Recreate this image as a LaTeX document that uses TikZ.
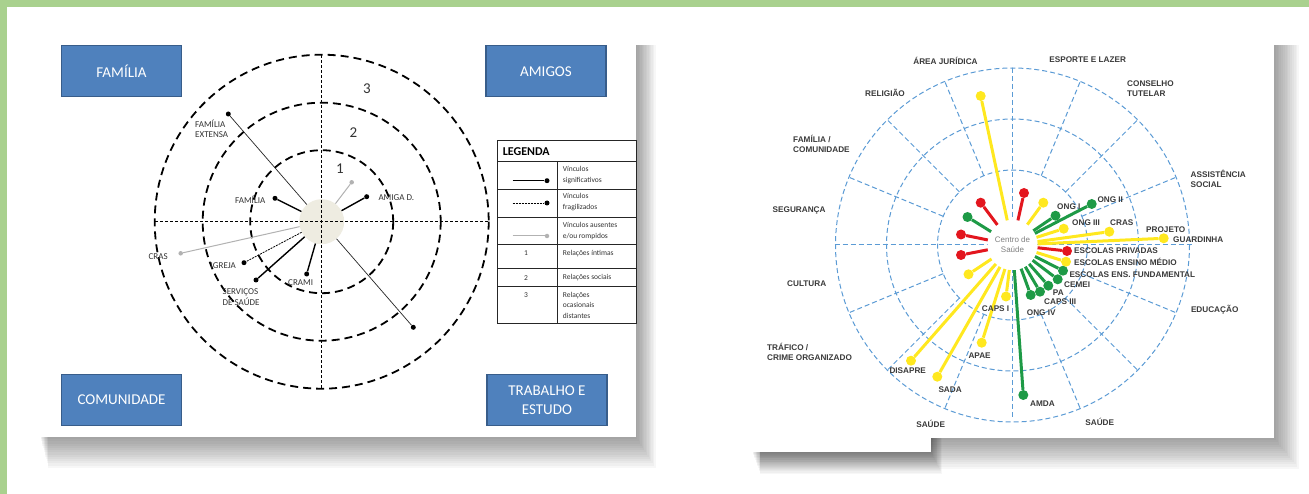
\documentclass[tikz,border=0pt]{standalone}
\usepackage{fontspec}
\setmainfont{Liberation Sans}
\newfontfamily\calibri{Carlito}
\usepackage{tikz}
\usetikzlibrary{positioning}
\definecolor{framegreen}{HTML}{A9D18E}
\definecolor{boxblue}{HTML}{4F81BD}
\definecolor{boxedge}{HTML}{385D8A}
\definecolor{egofill}{HTML}{EEECE1}
\definecolor{ringblue}{HTML}{5B9BD5}
\definecolor{linkyellow}{HTML}{FFE81F}
\definecolor{linkred}{HTML}{E3161E}
\definecolor{linkgreen}{HTML}{1E9A46}
\definecolor{labelgray}{HTML}{3A3A3A}

\begin{document}
\begin{tikzpicture}[x=1pt, y=-1pt,
    sector/.style={fill=boxblue, draw=boxedge, line width=1.2pt, minimum width=120pt,
        minimum height=51pt, text=white, align=center, font=\calibri\fontsize{15}{19}\selectfont},
    ego/.style={circle, fill=egofill, minimum size=45pt, inner sep=0pt},
    ldot/.style={circle, fill=black, minimum size=5pt, inner sep=0pt},
    gdot/.style={circle, fill=gray!60, minimum size=4.5pt, inner sep=0pt},
    strong/.style={line width=1.4pt, black},
    weak/.style={line width=0.7pt, black!85},
    fragile/.style={line width=0.8pt, black, dash pattern=on 2pt off 1pt},
    broken/.style={line width=1pt, gray!60},
    lname/.style={font=\calibri\fontsize{9}{10.8}\selectfont, text=black!80, inner sep=0pt,
        anchor=west, align=left},
    legtext/.style={font=\calibri\fontsize{7.5}{10.7}\selectfont, text=black!80, inner sep=0pt,
        anchor=west, align=left},
    lring/.style={line width=1.8pt, dash pattern=on 8pt off 5pt},
    laxis/.style={line width=0.9pt, dash pattern=on 3pt off 2pt},
    rring/.style={line width=1pt, ringblue, dash pattern=on 5pt off 3pt},
    center/.style={circle, fill=white, minimum size=50pt, inner sep=0pt, align=center,
        text=gray, font=\fontsize{8}{10}\selectfont},
    rdot/.style={circle, fill=#1, minimum size=10pt, inner sep=0pt},
    spoke/.style={line width=3pt, #1},
    sect/.style={font=\bfseries\fontsize{8.2}{10}\selectfont, text=labelgray, inner sep=0pt,
        align=left}]

    \useasboundingbox (0,0) rectangle (1309,494);

    % Frame
    \fill[framegreen] (0,0) rectangle (1309,7);
    \fill[framegreen] (0,0) rectangle (6.5,494);

    % Shadows
    \foreach \i in {1,...,14} {
        \fill[black, opacity=0.03] (40+\i*0.6,45) rectangle (636+\i*1.4,437+\i*2.2);
        \fill[black, opacity=0.03] (760,45) rectangle (1274+\i*1.8,438+\i*2.2);
        \fill[black, opacity=0.03] (752+\i*0.6,400) rectangle (931+\i*0.8,452+\i*1.6);
    }

    % Left panel
    \fill[white] (29.5,33.3) rectangle (636.4,437.3);

    \node[sector] (famil) at (121.5,71.2) {FAMÍLIA};
    \node[sector] (amigos) at (546,71.2) {AMIGOS};
    \node[sector] (comun) at (121.5,400) {COMUNIDADE};
    \node[sector] (trab) at (547,400) {TRABALHO E\\ESTUDO};

    \node[ego] (ego) at (321.7,221.7) {};

    % Rings
    \foreach \r in {71.5,119,167} {
        \draw[lring] (321.7,221.7) circle (\r);
    }
    \draw[laxis] (155,221.7) -- (488,221.7);
    \draw[laxis] (321.7,55) -- (321.7,388);

    \node[font=\calibri\fontsize{15}{17}\selectfont, text=black!80] (n1) at (340,169) {1};
    \node[font=\calibri\fontsize{15}{17}\selectfont, text=black!80] (n2) at (353.5,133) {2};
    \node[font=\calibri\fontsize{15}{17}\selectfont, text=black!80] (n3) at (367,88.5) {3};

    % Links
    \node[ldot] (dfamext) at (228.3,114) {};
    \node[ldot] (dfam) at (275,198.3) {};
    \node[gdot] (dtop) at (351.7,182.3) {};
    \node[ldot] (damiga) at (366.7,196.7) {};
    \node[gdot] (dcras) at (180.7,253.3) {};
    \node[ldot] (digreja) at (244,262.7) {};
    \node[ldot] (dserv) at (256,280) {};
    \node[ldot] (dcrami) at (306.7,274) {};
    \node[ldot] (dlow) at (413.3,327.3) {};

    \draw[weak] (ego) -- (dfamext);
    \draw[strong] (ego) -- (dfam);
    \draw[broken] (ego) -- (dtop);
    \draw[strong] (ego) -- (damiga);
    \draw[broken] (ego) -- (dcras);
    \draw[fragile] (ego) -- (digreja);
    \draw[strong] (ego) -- (dserv);
    \draw[strong] (ego) -- (dcrami);
    \draw[weak] (ego) -- (dlow);

    \node[lname] (tfamext) at (195,128.8) {FAMÍLIA\\EXTENSA};
    \node[lname] (tfam) at (235,200) {FAMÍLIA};
    \node[lname] (tamiga) at (378.3,197.3) {AMIGA D.};
    \node[lname] (tcras) at (148.5,257) {CRAS};
    \node[lname] (tigreja) at (210.5,265.7) {IGREJA};
    \node[lname] (tserv) at (222.5,297) {SERVIÇOS\\DE SAÚDE};
    \node[lname] (tcrami) at (288,282.7) {CRAMI};

    % Legend
    \draw[line width=0.9pt, black!85] (497.5,140.5) rectangle (636.5,323.5);
    \foreach \y in {161.7,189.3,217.3,244.7,268.5,286.3} {
        \draw[line width=0.9pt, black!85] (497.5,\y) -- (636.5,\y);
    }
    \draw[line width=0.9pt, black!85] (557.7,161.7) -- (557.7,323.5);
    \node[anchor=west, inner sep=0pt, font=\calibri\bfseries\fontsize{12}{14}\selectfont] (legend) at (502.7,151.5) {LEGENDA};

    \coordinate (ls1) at (512.6,180.7);
    \node[ldot] (le1) at (547,180.7) {};
    \draw[strong] (ls1) -- (le1);
    \coordinate (ls2) at (512.6,203);
    \node[ldot] (le2) at (547,203) {};
    \draw[fragile] (ls2) -- (le2);
    \coordinate (ls3) at (512.6,236);
    \node[gdot] (le3) at (547,236) {};
    \draw[broken] (ls3) -- (le3);

    \node[legtext] (lt1) at (562.7,175.3) {Vínculos\\significativos};
    \node[legtext] (lt2) at (562.7,202.2) {Vínculos\\fragilizados};
    \node[legtext] (lt3) at (562.7,231) {Vínculos ausentes\\e/ou rompidos};
    \node[legtext] (lt4) at (562.7,253.3) {Relações íntimas};
    \node[legtext] (lt5) at (562.7,277.7) {Relações sociais};
    \node[legtext] (lt6) at (562.7,305.3) {Relações\\ocasionais\\distantes};
    \node[legtext] (ln1) at (524,253.3) {1};
    \node[legtext] (ln2) at (524,277.7) {2};
    \node[legtext] (ln3) at (524,294.7) {3};

    % Right panel
    \fill[white] (747.7,30) rectangle (1273.6,438);
    \fill[white] (743,437) rectangle (931,452);

    \begin{scope}[shift={(1012.5,245)}]
        \foreach \r in {75,126,177} {
            \draw[rring] (0,0) circle (\r);
        }
        \draw[rring] (-178,0) -- (179,0);
        \draw[rring] (0,-177) -- (0,172);
        \foreach \a in {22.5,45,67.5,112.5,135,157.5,202.5,225,247.5,292.5,315,337.5} {
            \draw[rring] (\a:75) -- (\a:177);
        }
    \end{scope}

    \node[center] (cs) at (1012.5,245) {Centro de\\Saúde};

    \foreach \x/\y/\c [count=\k] in {980.7/96/linkyellow, 980.7/202.7/linkred, 967.5/217/linkgreen,
        961/234.5/linkred, 961/255/linkred, 968.5/274.3/linkyellow, 911/360.7/linkyellow,
        937.3/376.7/linkyellow, 981.7/342.7/linkyellow, 1006/296.5/linkyellow, 1023.3/395/linkgreen,
        1030.7/295/linkgreen, 1040/291.7/linkgreen, 1048.3/285.7/linkgreen, 1057.7/279.3/linkgreen,
        1063/270.7/linkgreen, 1066/261.7/linkyellow, 1067/251/linkred, 1163.7/238.3/linkyellow,
        1109.3/231.7/linkyellow, 1063.7/228.7/linkyellow, 1055.5/215.7/linkgreen, 1091.7/204/linkgreen,
        1043.3/202.7/linkyellow, 1024/193/linkred} {
        \node[rdot=\c] (r\k) at (\x,\y) {};
        \draw[spoke=\c] (cs) -- (r\k);
    }

    % Sectors
    \node[sect] (sjur) at (945.5,60.5) {ÁREA JURÍDICA};
    \node[sect] (sesp) at (1087.7,60) {ESPORTE E LAZER};
    \node[sect, anchor=west] (scons) at (1127,89) {CONSELHO\\TUTELAR};
    \node[sect] (srel) at (885,93.3) {RELIGIÃO};
    \node[sect, anchor=west] (sfam) at (793,144.3) {FAMÍLIA /\\COMUNIDADE};
    \node[sect, anchor=west] (sass) at (1190.5,179.2) {ASSISTÊNCIA\\SOCIAL};
    \node[sect, anchor=west] (sseg) at (772.5,210.7) {SEGURANÇA};
    \node[sect, anchor=west] (scult) at (787,283.3) {CULTURA};
    \node[sect, anchor=west] (sedu) at (1190.8,309.3) {EDUCAÇÃO};
    \node[sect, anchor=west] (strf) at (767,352.3) {TRÁFICO /\\CRIME ORGANIZADO};
    \node[sect] (ssau1) at (930.7,424) {SAÚDE};
    \node[sect] (ssau2) at (1099.7,421.5) {SAÚDE};

    % Link names
    \node[sect, anchor=west] (tong2) at (1097.3,199.3) {ONG II};
    \node[sect, anchor=west] (tong1) at (1057,206.7) {ONG I};
    \node[sect, anchor=west] (tong3) at (1072,222.7) {ONG III};
    \node[sect, anchor=west] (tcras2) at (1110,222.7) {CRAS};
    \node[sect, anchor=west] (tproj) at (1146,230) {PROJETO};
    \node[sect, anchor=west] (tguard) at (1173,239.3) {GUARDINHA};
    \node[sect, anchor=west] (tpriv) at (1074,251) {ESCOLAS PRIVADAS};
    \node[sect, anchor=west] (tmedio) at (1074,261.7) {ESCOLAS ENSINO MÉDIO};
    \node[sect, anchor=west] (tfund) at (1069.3,274.3) {ESCOLAS ENS. FUNDAMENTAL};
    \node[sect, anchor=west] (tcemei) at (1064,285) {CEMEI};
    \node[sect, anchor=west] (tpa) at (1052.7,292.7) {PA};
    \node[sect, anchor=west] (tcaps3) at (1044,301.7) {CAPS III};
    \node[sect, anchor=west] (tong4) at (1026.7,312.7) {ONG IV};
    \node[sect, anchor=west] (tcaps1) at (981.7,308.3) {CAPS I};
    \node[sect, anchor=west] (tapae) at (968.3,355.7) {APAE};
    \node[sect, anchor=west] (tdis) at (889.3,371) {DISAPRE};
    \node[sect, anchor=west] (tsada) at (938.3,389.3) {SADA};
    \node[sect, anchor=west] (tamda) at (1030,404) {AMDA};
\end{tikzpicture}
\end{document}
